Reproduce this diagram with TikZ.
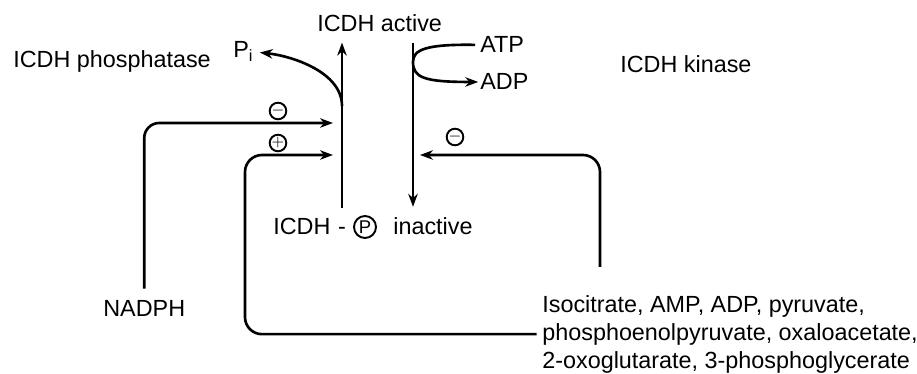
\documentclass[tikz,border=0pt]{standalone}
\usepackage{fontspec}
\setmainfont{Liberation Sans}
\usetikzlibrary{arrows.meta, calc}

\begin{document}
\begin{tikzpicture}[
    x=0.02cm, y=-0.02cm,
    every node/.style={font=\fontsize{13.3}{15.9}\selectfont, inner sep=0pt},
    flow/.style={line width=1.5pt, -{Stealth[length=2.6mm, width=1.9mm]}},
    link/.style={line width=1.5pt},
    sign/.style={circle, draw, line width=1.1pt, minimum size=0.27cm, font=\fontsize{9}{9}\selectfont\bfseries},
    pcirc/.style={circle, draw, line width=1.1pt, minimum size=0.44cm, font=\fontsize{10.5}{10.5}\selectfont}
  ]
    \useasboundingbox (0,0) rectangle (917,374);

    % enzymes
    \node[anchor=base west] (phos) at (13,68) {ICDH phosphatase};
    \node[anchor=base west] (kin) at (620,73) {ICDH kinase};

    % the two forms of ICDH
    \node[anchor=base west] (act) at (317,32) {ICDH active};
    \node[anchor=base west] (icdh) at (273,235) {ICDH};
    \node[anchor=base] (dash) at (342,235) {-};
    \node[pcirc] (pp) at (365,227) {P};
    \node[anchor=base west] (inact) at (393,235) {inactive};

    % side products
    \node[anchor=base west] (pi) at (233,58) {P\textsubscript{i}};
    \node[anchor=base west] (atp) at (480,53) {ATP};
    \node[anchor=base west] (adp) at (480,90) {ADP};

    % effectors
    \node[anchor=base west] (nadph) at (103,317) {NADPH};
    \node[anchor=north west, align=left] (iso) at (542,295) {Isocitrate, AMP, ADP, pyruvate,\\phosphoenolpyruvate, oxaloacetate,\\2-oxoglutarate, 3-phosphoglycerate};

    \node[sign] (inhN) at (278,111) {$-$};
    \node[sign] (actI) at (278,143) {$+$};
    \node[sign] (inhI) at (455,137) {$-$};

    % points on the two main lines
    \coordinate (rx) at ($(inact.north west)+(20,0)$);
    \coordinate (pij) at (342,106);
    \coordinate (atpj) at (413,62);
    \coordinate (nadphIn) at (333,123);
    \coordinate (isoIn) at (333,155);
    \coordinate (isoOut) at (420,155);

    % dephosphorylation (up) and phosphorylation (down)
    \draw[flow, shorten <=11.3pt, shorten >=5.7pt] (dash.north) -- (dash.north |- act.south);
    \draw[flow, shorten <=6.2pt, shorten >=6.2pt] (rx |- act.south) -- (rx);

    \draw[flow, shorten >=3.4pt] (pij) .. controls (342,72) and (292,56) .. (pi.east);
    \draw[link, shorten <=2.8pt] (atp.west) .. controls (425,44) and (413,50) .. (atpj);
    \draw[flow, shorten >=1pt] (atpj) .. controls (413,78) and (425,82) .. (adp.west);

    % regulation
    \draw[flow, rounded corners=0.3cm] ($(nadph.north)+(0,-12)$) |- (nadphIn);
    \draw[flow, rounded corners=0.34cm, shorten <=3pt] (iso.west) -- ++(-297,0) |- (isoIn);
    \draw[flow, rounded corners=0.34cm] ($(iso.north west)+(58,-28)$) |- (isoOut);
\end{tikzpicture}
\end{document}
